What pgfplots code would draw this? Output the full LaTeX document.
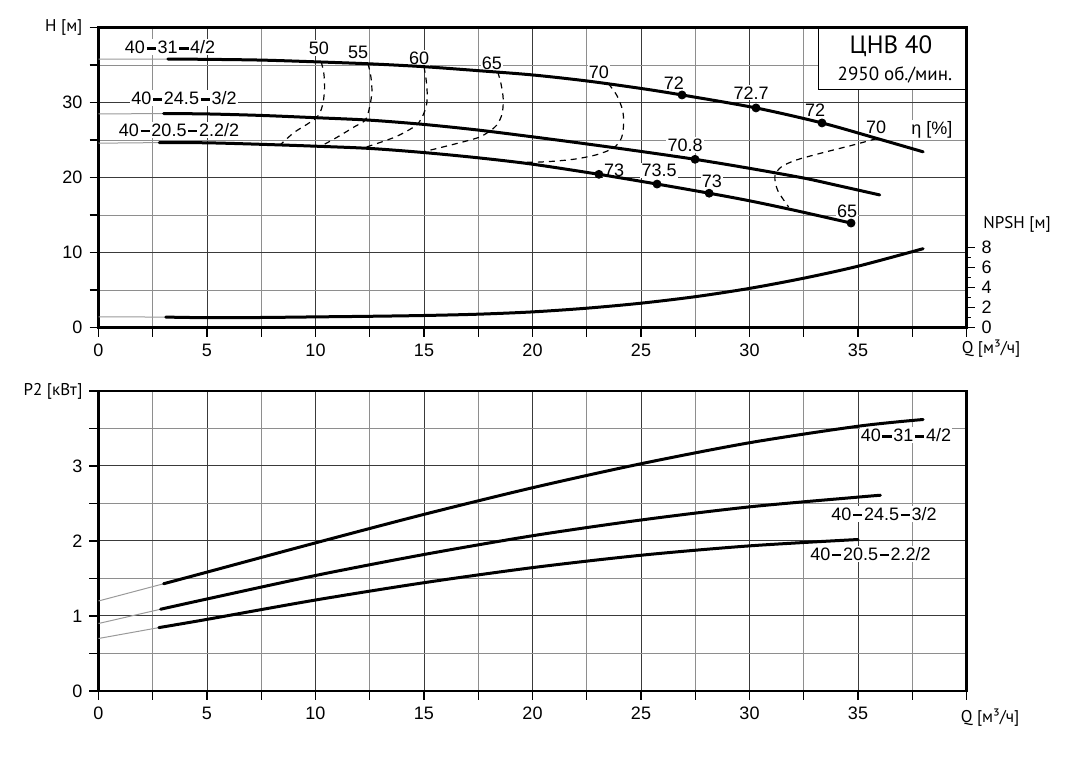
\documentclass[border=0pt]{standalone}
\usepackage{fontspec}
\setmainfont{Liberation Sans}
\newfontfamily\lblfont{PT Sans}
\usepackage{pgfplots}
\pgfplotsset{compat=1.18}
\definecolor{majgrid}{HTML}{3A3A3A}
\definecolor{mingrid}{HTML}{8E8E8E}
\definecolor{thinc}{HTML}{9A9A9A}
\newcommand\dd{\kern0.09em\rule[0.22em]{0.52em}{0.13em}\kern0.09em}
\tikzset{
  lab/.style={font=\fontsize{9}{10}\selectfont, fill=white, inner sep=0.6pt},
  curve/.style={black, line width=1.5pt, line join=round, line cap=round, smooth},
  thin/.style={thinc, line width=0.5pt, smooth},
  eff/.style={black, line width=0.6pt, dash pattern=on 3pt off 2.5pt, smooth},
  dots/.style={only marks, mark=*, mark size=2pt, black},
}
\pgfplotsset{
  base/.style={
    scale only axis, width=434pt, height=150pt,
    xmin=0, xmax=40,
    axis line style={line width=1.2pt},
    every tick/.style={black, line width=0.7pt},
    tick align=outside, tick pos=left,
    major tick length=4.5pt, minor tick length=4.5pt,
    xtick={0,5,...,40}, minor xtick={2.5,7.5,...,37.5},
    xticklabels={0,5,10,15,20,25,30,35,{}},
    grid=both,
    major grid style={majgrid, line width=0.5pt},
    minor grid style={mingrid, line width=0.5pt},
    ticklabel style={font=\fontsize{9}{10}\selectfont},
    /pgf/number format/assume math mode=true,
    clip=false,
  },
}
\begin{document}
\begin{tikzpicture}
\useasboundingbox (0,0) rectangle (535pt,390.5pt);
% ---------------- top: H(Q) ----------------
\begin{axis}[base, at={(49.25pt,226.65pt)}, anchor=south west,
  ymin=0, ymax=40, ytick={0,10,20,30,40},
  yticklabels={0,10,20,30,{\lblfont\fontsize{8.5}{10}\selectfont H [м]}},
  minor ytick={5,15,25,35}]
% info box
\draw[black, line width=0.5pt, fill=white] (axis cs:33.2,31.7) rectangle (axis cs:40,40);
\draw[black, line width=1.2pt] (axis cs:33.0,40) -- (axis cs:40,40) -- (axis cs:40,31.5);
\node[font=\lblfont\fontsize{12.5}{14}\selectfont] at (axis cs:36.52,37.56) {ЦНВ 40};
\node[font=\lblfont\fontsize{9.5}{11}\selectfont] at (axis cs:36.7,33.69) {2950 об./мин.};
% labels
\node[lab] at (axis cs:3.3,37.4) {40\dd31\dd4/2};
\node[lab] at (axis cs:3.94,30.6) {40\dd24.5\dd3/2};
\node[lab] at (axis cs:3.71,26.36) {40\dd20.5\dd2.2/2};
\node[lab] at (axis cs:10.16,37.3) {50};
\node[lab] at (axis cs:11.96,36.76) {55};
\node[lab] at (axis cs:14.77,35.96) {60};
\node[lab] at (axis cs:18.13,35.3) {65};
\node[lab] at (axis cs:23.06,34.1) {70};
\node[lab] at (axis cs:26.52,32.65) {72};
\node[lab] at (axis cs:30.07,31.3) {72.7};
\node[lab] at (axis cs:33.02,29.0) {72};
\node[lab] at (axis cs:35.83,26.7) {70};
\node[lab] at (axis cs:38.41,26.35) {η [\%]};
\node[lab] at (axis cs:27.03,24.36) {70.8};
\node[lab] at (axis cs:23.76,21.0) {73};
\node[lab] at (axis cs:25.83,21.0) {73.5};
\node[lab] at (axis cs:28.27,19.56) {73};
\node[lab] at (axis cs:34.5,15.56) {65};
\node[font=\lblfont\fontsize{8.5}{10}\selectfont] at (axis cs:41.13,-2.84) {Q [м³/ч]};
% H curves thin parts
\addplot[thin] coordinates {(0,35.8) (3.2,35.82)};
\addplot[thin] coordinates {(0,28.5) (3.0,28.55)};
\addplot[thin] coordinates {(0,24.6) (2.8,24.68)};
% H curves
\addplot[curve] coordinates {(3.2,35.82) (5,35.78) (7.5,35.68) (10,35.45) (12.5,35.18) (15,34.8) (17.5,34.27) (20,33.7) (22.5,32.9) (25,31.9) (26.89,31.03) (30.3,29.3) (33.34,27.3) (35.85,25.25) (38,23.45)};
\addplot[curve] coordinates {(3.0,28.55) (5,28.5) (7.5,28.3) (10,28.0) (12.5,27.67) (15,27.1) (17.5,26.35) (20,25.45) (22.5,24.5) (25,23.5) (27.49,22.45) (30,21.25) (32.5,19.95) (34,19.0) (36,17.7)};
\addplot[curve] coordinates {(2.8,24.68) (5,24.65) (7.5,24.45) (10,24.2) (12.5,23.9) (15,23.35) (17.5,22.65) (20,21.8) (23.06,20.45) (25.74,19.15) (28.14,17.93) (30,16.92) (32,15.7) (34.68,13.95)};
% efficiency iso-lines
\addplot[eff] coordinates {(10.26,35.45) (10.38,34) (10.42,32) (10.35,30) (10.2,28.6) (10.05,28.0) (9.6,27.1) (9.0,26.0) (8.4,24.45)};
\addplot[eff] coordinates {(12.42,35.2) (12.55,33.5) (12.6,31.5) (12.5,29.5) (12.3,27.7) (11.8,26.8) (11.0,25.4) (10.25,24.2)};
\addplot[eff] coordinates {(15.0,34.8) (15.1,33) (15.15,31) (15.1,29.5) (14.9,28.0) (14.6,26.9) (13.65,25.4) (12.2,23.95)};
\addplot[eff] coordinates {(18.4,34.1) (18.55,32.5) (18.65,30.5) (18.6,28.5) (18.35,27.0) (18.0,26.15) (17.5,25.35) (16.43,24.5) (14.9,23.4)};
\addplot[eff] coordinates {(23.5,32.55) (23.9,30.9) (24.15,29) (24.2,27.2) (24.1,25.3) (23.75,24.0) (23.0,23.1) (22.0,22.5) (21.0,22.2) (20,22.05) (19.3,22.1)};
\addplot[eff] coordinates {(35.85,25.2) (34.7,24.3) (33.2,23.2) (32.1,22.3) (31.45,21.4) (31.17,20.2) (31.3,18.3) (31.8,16.1)};
% dots
\addplot[dots] coordinates {(26.89,31.03) (30.3,29.3) (33.34,27.3) (27.49,22.45) (23.06,20.45) (25.74,19.15) (28.14,17.93) (34.68,13.95)};
\end{axis}
% ---------------- NPSH axis ----------------
\begin{axis}[scale only axis, width=434pt, height=150pt,
  at={(49.25pt,226.65pt)}, anchor=south west,
  xmin=0, xmax=40, ymin=0, ymax=30,
  axis x line=none, axis y line*=right,
  axis line style={line width=1.2pt, -},
  every tick/.style={black, line width=0.7pt},
  tick align=outside,
  ytick={0,2,4,6,8}, minor ytick={1,3,5,7},
  major tick length=4pt, minor tick length=2pt,
  ticklabel style={font=\fontsize{9}{10}\selectfont},
  /pgf/number format/assume math mode=true,
  clip=false]
\node[font=\lblfont\fontsize{8.5}{10}\selectfont] at (axis cs:42.33,10.37) {NPSH [м]};
\addplot[thin] coordinates {(0,1.09) (3.1,1.06)};
\addplot[curve] coordinates {(3.1,1.06) (5,1.0) (7.5,1.02) (10,1.08) (12.5,1.14) (15,1.22) (17.5,1.35) (20,1.58) (22.5,1.95) (25,2.45) (27.5,3.1) (30,3.93) (32.5,4.95) (35,6.15) (38,7.9)};
\end{axis}
% ---------------- bottom: P2(Q) ----------------
\begin{axis}[base, at={(49.25pt,45pt)}, anchor=south west,
  ymin=0, ymax=4, ytick={0,1,2,3,4},
  yticklabels={0,1,2,3,{\lblfont\fontsize{8.5}{10}\selectfont P2 [кВт]}},
  minor ytick={0.5,1.5,2.5,3.5}]
\node[lab] at (axis cs:37.21,3.41) {40\dd31\dd4/2};
\node[lab] at (axis cs:36.2,2.36) {40\dd24.5\dd3/2};
\node[lab] at (axis cs:35.58,1.83) {40\dd20.5\dd2.2/2};
\node[font=\lblfont\fontsize{8.5}{10}\selectfont] at (axis cs:41.09,-0.36) {Q [м³/ч]};
\addplot[thin] coordinates {(0,1.2) (3.0,1.43)};
\addplot[thin] coordinates {(0,0.9) (2.86,1.09)};
\addplot[thin] coordinates {(0,0.7) (2.78,0.845)};
\addplot[curve] coordinates {(3.0,1.43) (5,1.585) (10,1.975) (15,2.355) (20,2.71) (25,3.03) (30,3.31) (35,3.53) (38,3.62)};
\addplot[curve] coordinates {(2.86,1.09) (5,1.227) (10,1.54) (15,1.82) (20,2.07) (25,2.28) (30,2.455) (35,2.585) (36.03,2.61)};
\addplot[curve] coordinates {(2.78,0.845) (5,0.955) (10,1.213) (15,1.444) (20,1.645) (25,1.81) (30,1.935) (35,2.02)};
\end{axis}
\end{tikzpicture}
\end{document}
